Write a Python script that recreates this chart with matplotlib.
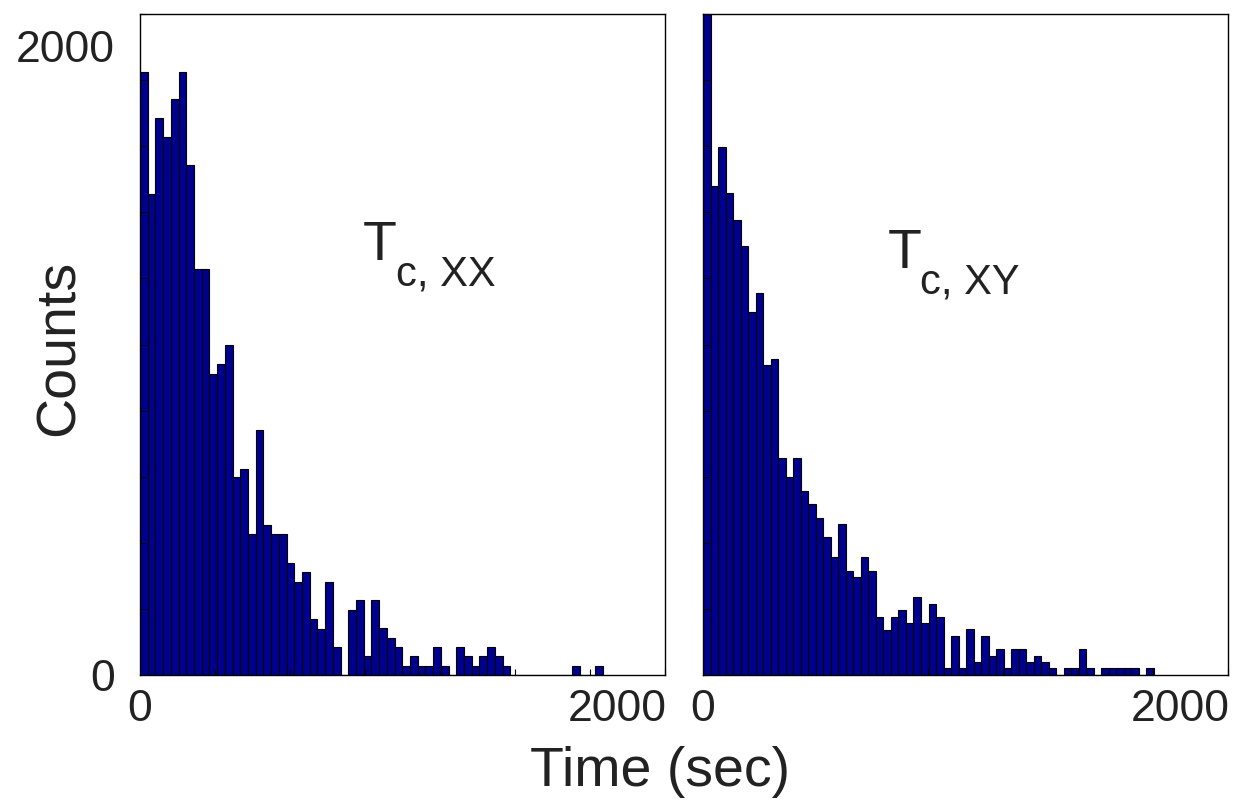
import numpy as np
import matplotlib.pyplot as plt

# bar heights (60 equal bins per panel)
counts_xx = [1917, 1529, 1769, 1709, 1829, 1917, 1619, 1289, 1289, 958,
             987, 1048, 628, 656, 447, 777, 476, 447, 447, 357,
             295, 326, 177, 146, 295, 89, 0, 207, 237, 59,
             237, 148, 118, 89, 30, 59, 30, 30, 89, 30,
             0, 89, 59, 30, 59, 89, 59, 30, 0, 0,
             0, 0, 0, 0, 0, 0, 30, 0, 0, 30]
counts_xy = [2200, 1553, 1677, 1531, 1447, 1363, 1152, 1215, 985, 1003,
             690, 628, 690, 584, 542, 499, 437, 374, 479, 332,
             310, 374, 332, 185, 143, 185, 206, 164, 248, 164,
             226, 185, 21, 125, 21, 146, 42, 125, 61, 83,
             21, 83, 83, 42, 61, 42, 21, 0, 21, 21,
             83, 21, 0, 21, 21, 21, 21, 21, 0, 21]
tmax_xx = 1940   # upper edge of last bin (sec)
tmax_xy = 1890
labels = ["XX", "XY"]

plt.rcParams['font.family'] = ['Liberation Sans', 'DejaVu Sans']

fig = plt.figure(figsize=(12.41, 8.06), dpi=100)
ax1 = fig.add_axes([0.1128, 0.1625, 0.423, 0.820])
ax2 = fig.add_axes([0.5665, 0.1625, 0.423, 0.820])

panels = [(ax1, counts_xx, tmax_xx), (ax2, counts_xy, tmax_xy)]
for ax, cnt, tmax in panels:
    edges = np.linspace(0, tmax, len(cnt) + 1)
    ax.bar(edges[:-1], cnt, width=np.diff(edges), align='edge',
           color='#00008F', edgecolor='black', linewidth=0.8)
    ax.set_xlim(0, 2200)
    ax.set_ylim(0, 2100)
    ax.set_xticks([0, 2000])
    ax.set_xticks(np.linspace(0, 2200, 8), minor=True)
    ax.set_yticks(np.linspace(0, 2100, 11), minor=True)
    ax.tick_params(which='major', length=0, labelsize=32,
                   labelcolor='#222222')
    ax.tick_params(axis='x', which='major', pad=10)
    ax.tick_params(axis='y', which='major', pad=18)
    ax.tick_params(which='minor', direction='in', length=4, width=0.8)
    for s in ax.spines.values():
        s.set_linewidth(1.0)

ax1.set_yticks([0, 2000])
ax2.set_yticks([])
ax2.set_yticks(np.linspace(0, 2100, 11), minor=True)

# panel labels
for ax, lab, (x, y) in [(ax1, labels[0], (0.425, 0.628)),
                        (ax2, labels[1], (0.352, 0.616))]:
    ax.text(x, y, "T", transform=ax.transAxes, fontsize=40,
            color='#222222', va='baseline', ha='left')
    ax.text(x + 0.062, y - 0.038, "c, " + lab, transform=ax.transAxes,
            fontsize=30, color='#222222', va='baseline', ha='left')

fig.text(660 / 1241, 0.025, "Time (sec)", fontsize=40, color='#222222',
         ha='center', va='baseline')
fig.text(60 / 1241, 1 - 348 / 806, "Counts", fontsize=40, color='#222222',
         rotation=90, ha='center', va='center')

fig.savefig("out.png", dpi=100)
